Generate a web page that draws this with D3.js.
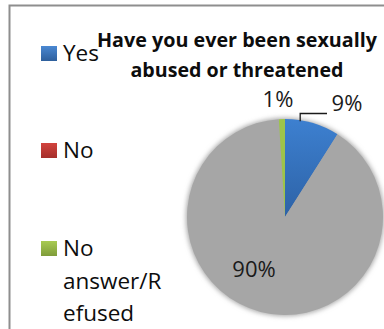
<!DOCTYPE html>
<html>
<head>
<meta charset="utf-8">
<script src="https://cdn.jsdelivr.net/npm/d3@7"></script>
<style>
  html, body { margin: 0; padding: 0; background: #fff; }
  svg { display: block; }
</style>
</head>
<body>
<div id="chart"></div>
<script>
// Survey answers and their shares (percent)
const categories = ["Yes", "No", "No answer/Refused"];
const values = [9, 90, 1];
const legendLines = [["Yes"], ["No"], ["No", "answer/R", "efused"]];
const titleLines = ["Have you ever been sexually", "abused or threatened"];

const W = 384, H = 329;
const svg = d3.select("#chart").append("svg").attr("width", W).attr("height", H);
const defs = svg.append("defs");

// gradients for the slices and legend keys
function vGrad(id, top, bottom) {
  const g = defs.append("linearGradient").attr("id", id)
    .attr("x1", "0%").attr("y1", "0%").attr("x2", "0%").attr("y2", "100%");
  g.append("stop").attr("offset", "0%").attr("stop-color", top);
  g.append("stop").attr("offset", "100%").attr("stop-color", bottom);
}
vGrad("gYes", "#3d80d0", "#2d62a6");
vGrad("kYes", "#4a88d2", "#2e5f9c");
vGrad("kNo", "#d2433d", "#a52f2b");
vGrad("kNA", "#a8cb52", "#7f9c3a");

const sliceFill = ["url(#gYes)", "#a6a6a6", "#9dc44a"];
const keyFill = ["url(#kYes)", "url(#kNo)", "url(#kNA)"];

defs.append("filter").attr("id", "soft").attr("x", "-20%").attr("y", "-20%")
  .attr("width", "140%").attr("height", "140%")
  .append("feGaussianBlur").attr("stdDeviation", 2.6);

// chart frame
svg.append("rect").attr("x", 9.5).attr("y", 5.5).attr("width", 420).attr("height", 400)
  .attr("fill", "none").attr("stroke", "#8e8e8e").attr("stroke-width", 2);

// pie
const cx = 285, cy = 217, r = 98;
const pie = d3.pie().sort(null).startAngle(0).endAngle(2 * Math.PI);
const arcs = pie(values);
const arc = d3.arc().innerRadius(0).outerRadius(r);
const g = svg.append("g").attr("transform", `translate(${cx},${cy})`);

// soft halo around the pie edge
g.append("circle").attr("r", r + 1).attr("fill", "#a6a6a6").attr("filter", "url(#soft)");

g.selectAll("path.slice").data(arcs).join("path")
  .attr("class", "slice")
  .attr("d", arc)
  .attr("fill", (d, i) => sliceFill[i]);

// data labels
const fmt = v => d3.format("d")(v) + "%";
const labelFont = "'Open Sans', sans-serif";
const lab = svg.append("g").attr("font-family", labelFont).attr("font-size", 22).attr("fill", "#1a1a1a");
const labelPos = [[347, 111], [254, 277], [278, 107]];
lab.selectAll("text").data(arcs).join("text")
  .attr("x", (d, i) => labelPos[i][0]).attr("y", (d, i) => labelPos[i][1])
  .attr("text-anchor", "middle")
  .text(d => fmt(d.data));

// leader line for the Yes label
const yesEdge = d3.arc().innerRadius(r).outerRadius(r).centroid(
  { startAngle: arcs[0].startAngle, endAngle: arcs[0].startAngle + (arcs[0].endAngle - arcs[0].startAngle) * 0.55 });
svg.append("path")
  .attr("d", d3.line()([[cx + yesEdge[0], cy + yesEdge[1] + 1], [cx + yesEdge[0], 113.5], [327, 113.5]]))
  .attr("fill", "none").attr("stroke", "#1a1a1a").attr("stroke-width", 1.3);

// title
const title = svg.append("g").attr("font-family", "'Open Sans', sans-serif").attr("font-weight", "bold")
  .attr("font-size", 20).attr("fill", "#0d0d0d").attr("text-anchor", "middle");
const titleWidths = [280, 213];
title.selectAll("text").data(titleLines).join("text")
  .attr("x", 237).attr("y", (d, i) => 47 + i * 29.5)
  .attr("textLength", (d, i) => titleWidths[i]).attr("lengthAdjust", "spacingAndGlyphs")
  .text(d => d);

// legend
const legY = [46, 143, 241];
const leg = svg.append("g").attr("font-family", labelFont).attr("font-size", 22.5).attr("fill", "#0d0d0d");
const items = leg.selectAll("g").data(categories).join("g")
  .attr("transform", (d, i) => `translate(41,${legY[i]})`);
items.append("rect").attr("width", 16).attr("height", 15).attr("fill", (d, i) => keyFill[i]);
items.append("text")
  .attr("x", 22).attr("y", 15)
  .selectAll("tspan").data((d, i) => legendLines[i]).join("tspan")
  .attr("x", 22).attr("dy", (d, j) => j === 0 ? 0 : 32.5)
  .text(d => d);
</script>
</body>
</html>
